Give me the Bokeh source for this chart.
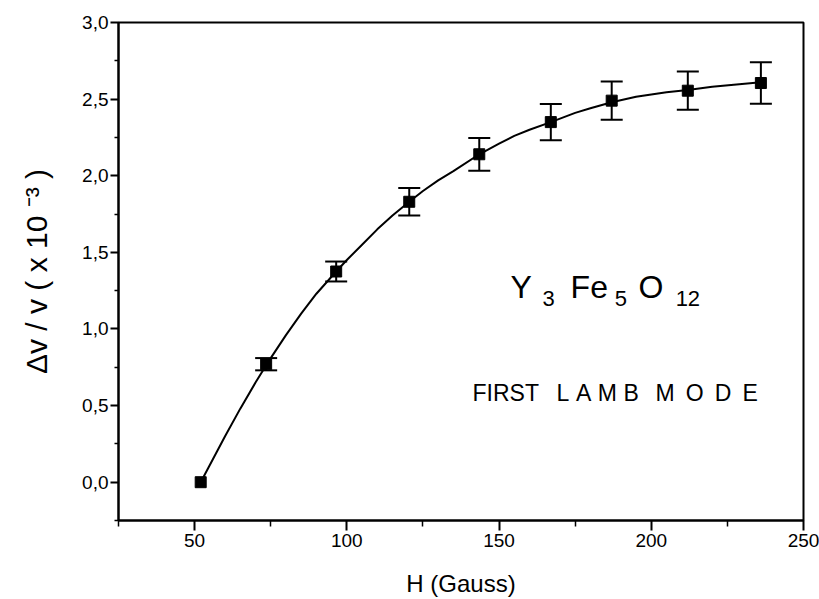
from bokeh.plotting import figure
from bokeh.models import (ColumnDataSource, Whisker, TeeHead, FixedTicker, Label,
                          CustomJSTickFormatter)
from bokeh.embed import file_html
from bokeh.resources import INLINE

# ---------------- data ----------------
H_gauss = [52, 73.5, 96.5, 120.5, 143.5, 167, 187, 212, 236]
dv_v = [0.0, 0.77, 1.375, 1.83, 2.14, 2.35, 2.49, 2.555, 2.605]
dv_err = [0.0, 0.04, 0.065, 0.09, 0.107, 0.118, 0.125, 0.125, 0.135]

# smooth fitted curve
curve_H = [52, 56, 60, 65, 70, 75, 80, 85, 90, 96.5, 100, 105, 110, 115, 120.5,
           125, 130, 135, 143.5, 150, 155, 160, 167, 175, 180, 187, 195, 200,
           205, 212, 220, 228, 236]
curve_v = [0.0, 0.15, 0.30, 0.48, 0.65, 0.81, 0.96, 1.10, 1.23, 1.375, 1.45,
           1.55, 1.65, 1.74, 1.83, 1.90, 1.97, 2.03, 2.14, 2.21, 2.26, 2.30,
           2.35, 2.41, 2.44, 2.48, 2.515, 2.53, 2.545, 2.56, 2.58, 2.595, 2.61]

x_ticks = [50, 100, 150, 200, 250]
x_minor = [25, 75, 125, 175, 225]
x_tick_labels = ["50", "100", "150", "200", "250"]
y_ticks = [0.0, 0.5, 1.0, 1.5, 2.0, 2.5, 3.0]
y_minor = [-0.25, 0.25, 0.75, 1.25, 1.75, 2.25, 2.75]
y_tick_labels = ["0,0", "0,5", "1,0", "1,5", "2,0", "2,5", "3,0"]

FONT = "Liberation Sans"

p = figure(width=819, height=599, x_range=(25, 250), y_range=(-0.25, 3.0),
           output_backend="svg", toolbar_location=None,
           min_border_left=118, min_border_right=16, min_border_top=22,
           min_border_bottom=79)
p.grid.visible = False
p.outline_line_color = "black"
p.outline_line_width = 2
p.background_fill_color = "white"
p.border_fill_color = "white"

def fmt(vals, labels):
    return CustomJSTickFormatter(args=dict(tvals=vals, tlabels=labels), code="""
        const i = tvals.findIndex(t => Math.abs(t - tick) < 1e-9);
        return i >= 0 ? tlabels[i] : '';
    """)

for ax in (p.xaxis[0], p.yaxis[0]):
    ax.axis_line_width = 2
    ax.axis_line_color = "black"
    ax.major_tick_line_width = 2
    ax.minor_tick_line_width = 1.5
    ax.major_tick_in = 0
    ax.minor_tick_in = 0
    ax.major_label_text_font = FONT
    ax.major_label_text_font_size = "19px"
    ax.major_label_text_color = "black"
    ax.axis_label_text_font = FONT
    ax.axis_label_text_font_style = "normal"
    ax.axis_label_text_color = "black"

xa = p.xaxis[0]
xa.ticker = FixedTicker(ticks=x_ticks, minor_ticks=x_minor)
xa.formatter = fmt(x_ticks, x_tick_labels)
xa.major_tick_out = 10
xa.minor_tick_out = 6
xa.major_label_standoff = 3
xa.axis_label = "H (Gauss)"
xa.axis_label_text_font_size = "24px"
xa.axis_label_standoff = 20

ya = p.yaxis[0]
ya.ticker = FixedTicker(ticks=y_ticks, minor_ticks=y_minor)
ya.formatter = fmt(y_ticks, y_tick_labels)
ya.major_tick_out = 8
ya.minor_tick_out = 4
ya.major_label_standoff = 2
ya.axis_label = "\u0394v / v ( x 10 \u207b\u00b3 )"
ya.axis_label_text_font_size = "30px"
ya.axis_label_standoff = 26

# curve
p.line(curve_H, curve_v, line_color="black", line_width=2)

# error bars (points with a nonzero error)
eb_x = [h for h, e in zip(H_gauss, dv_err) if e > 0]
eb_lo = [v - e for v, e in zip(dv_v, dv_err) if e > 0]
eb_hi = [v + e for v, e in zip(dv_v, dv_err) if e > 0]
src_e = ColumnDataSource(dict(x=eb_x, lo=eb_lo, hi=eb_hi))
w = Whisker(source=src_e, base="x", lower="lo", upper="hi", dimension="height",
            line_color="black", line_width=2,
            upper_head=TeeHead(size=22, line_width=2, line_color="black"),
            lower_head=TeeHead(size=22, line_width=2, line_color="black"))
p.add_layout(w)

p.scatter(H_gauss, dv_v, marker="square", size=11, fill_color="black",
          line_color="black")

# formula annotation  Y3 Fe5 O12
big, small = "32px", "22px"
parts = [("Y", 153.8, 1.271, big), ("3", 164.3, 1.199, small),
         ("Fe", 173.5, 1.271, big), ("5", 188.0, 1.199, small),
         ("O", 195.8, 1.271, big), ("12", 208.0, 1.199, small)]
for t, x, y, fs in parts:
    p.add_layout(Label(x=x, y=y, text=t, text_font=FONT, text_font_size=fs,
                       text_align="left", text_baseline="alphabetic",
                       text_color="black"))

# mode annotation
T, HS = "\u2009", "\u200a"
g1 = T + HS
g2 = T * 2 + HS
words = [("FIRST", 141.3),
         ("L" + g1 + "A" + g1 + "M" + g1 + "B", 168.9),
         ("M" + g2 + "O" + g2 + "D" + g2 + "E", 201.4)]
for t, x in words:
    p.add_layout(Label(x=x, y=0.579, text=t, text_font=FONT,
                       text_font_size="23px", text_align="left",
                       text_baseline="alphabetic", text_color="black"))

open("out.html", "w").write(file_html(p, INLINE))
